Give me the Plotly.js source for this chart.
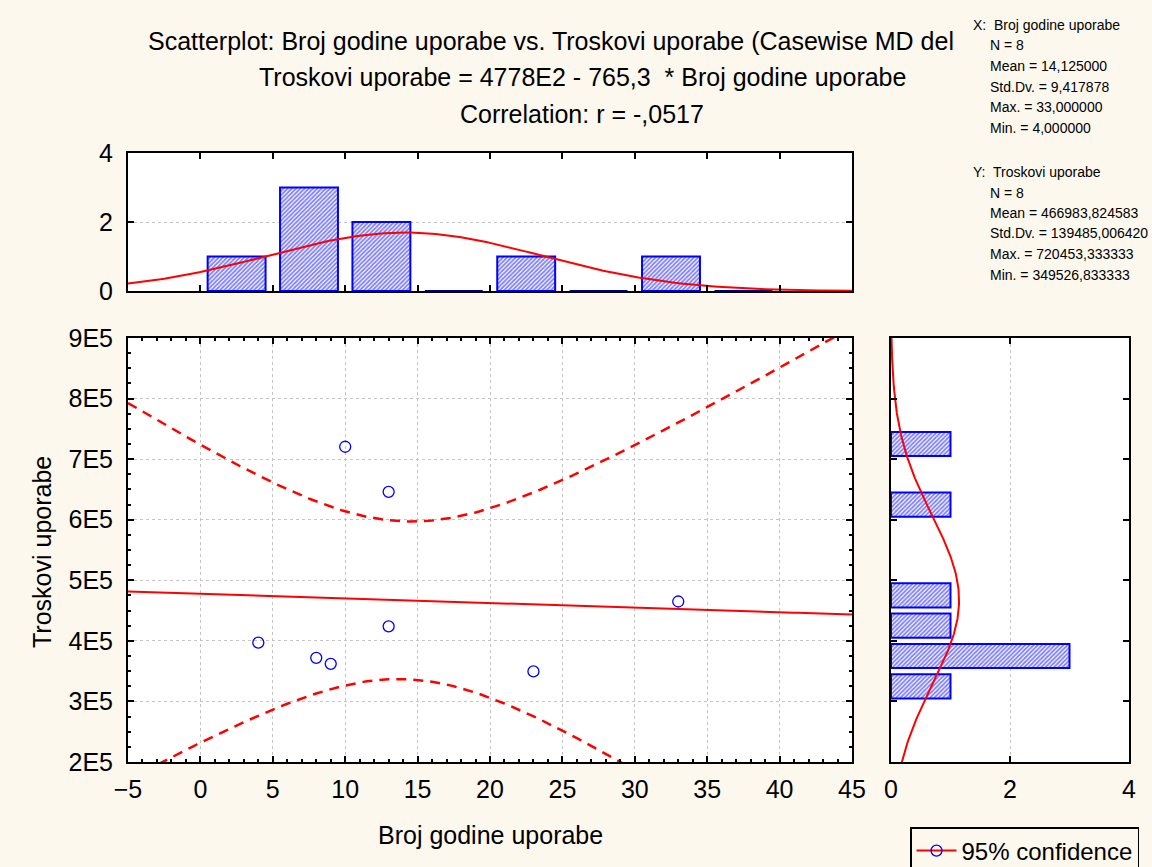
<!DOCTYPE html>
<html>
<head>
<meta charset="utf-8">
<script src="https://cdn.plot.ly/plotly-3.0.1.min.js"></script>
<style>html,body{margin:0;padding:0;background:#fdf8ee;}#chart{width:1152px;height:867px;}</style>
</head>
<body>
<div id="chart"></div>
<script>
// ---- data ----
const xData = [4, 8, 9, 10, 13, 13, 23, 33];            // Broj godine uporabe
const yData = [397000, 372000, 362000, 720453, 646000, 424000, 349527, 465000]; // Troskovi uporabe

// printed statistics
const intercept = 477800;     // 4778E2
const slope = -765.3;
const corrR = -0.0517;
const nObs = 8;
const meanX = 14.125, sdX = 9.417878;
const meanY = 466983.824583, sdY = 139485.00642;
const tCrit = 2.4469;         // t(0.975, df=6)

// histograms
const xBinCenters = [2.5, 7.5, 12.5, 17.5, 22.5, 27.5, 32.5, 37.5];
const xBinCounts  = [1, 3, 2, 0, 1, 0, 1, 0];
const xBinWidth = 5;
const yBinCenters = [325000, 375000, 425000, 475000, 625000, 725000];
const yBinCounts  = [1, 3, 1, 1, 1, 1];
const yBinWidth = 50000;

const yTickVals = [200000, 300000, 400000, 500000, 600000, 700000, 800000, 900000];
const yTickText = ['2E5', '3E5', '4E5', '5E5', '6E5', '7E5', '8E5', '9E5'];

const titleLines = [
  'Scatterplot: Broj godine uporabe vs. Troskovi uporabe (Casewise MD del',
  'Troskovi uporabe = 4778E2 - 765,3  * Broj godine uporabe',
  'Correlation: r = -,0517'
];
const statsX = ['X:  Broj godine uporabe', 'N = 8', 'Mean = 14,125000', 'Std.Dv. = 9,417878', 'Max. = 33,000000', 'Min. = 4,000000'];
const statsY = ['Y:  Troskovi uporabe', 'N = 8', 'Mean = 466983,824583', 'Std.Dv. = 139485,006420', 'Max. = 720453,333333', 'Min. = 349526,833333'];

// ---- derived curves ----
const FONT = 'Liberation Sans, Arial, sans-serif';
const BIG = 25;
const RED = '#ff0000', BLUE = '#0000ff', CREAM = '#fdf8ee';
const W = 1152, H = 867;
const px = v => v / W, py = v => 1 - v / H;

const sxx = (nObs - 1) * sdX * sdX;
const sRes = sdY * Math.sqrt((1 - corrR * corrR) * (nObs - 1) / (nObs - 2));
const gx = [], fitY = [], upY = [], loY = [], normX = [];
for (let x = -5; x <= 45.001; x += 0.25) {
  gx.push(x);
  const yh = intercept + slope * x;
  const hw = tCrit * sRes * Math.sqrt(1 / nObs + (x - meanX) * (x - meanX) / sxx);
  fitY.push(yh); upY.push(yh + hw); loY.push(yh - hw);
  normX.push(nObs * xBinWidth * Math.exp(-0.5 * Math.pow((x - meanX) / sdX, 2)) / (sdX * Math.sqrt(2 * Math.PI)));
}
const gy = [], normY = [];
for (let y = 200000; y <= 900001; y += 2500) {
  gy.push(y);
  normY.push(nObs * yBinWidth * Math.exp(-0.5 * Math.pow((y - meanY) / sdY, 2)) / (sdY * Math.sqrt(2 * Math.PI)));
}

const pattern = {shape: '/', fgcolor: BLUE, bgcolor: 'white', size: 3, solidity: 0.6, fillmode: 'overlay'};

const traces = [];
// top histogram
traces.push({type: 'bar', x: xBinCenters.filter((c, i) => xBinCounts[i] > 0), y: xBinCounts.filter(c => c > 0),
  width: 4, xaxis: 'x2', yaxis: 'y2', marker: {color: 'white', pattern: pattern, line: {color: BLUE, width: 2}},
  showlegend: false, hoverinfo: 'skip'});
// empty bins drawn as thin base lines
xBinCenters.forEach((c, i) => {
  if (xBinCounts[i] === 0) traces.push({type: 'scatter', mode: 'lines', x: [c - 2, c + 2], y: [0, 0], xaxis: 'x2', yaxis: 'y2',
    line: {color: '#000080', width: 2}, showlegend: false, hoverinfo: 'skip'});
});
traces.push({type: 'scatter', mode: 'lines', x: gx, y: normX, xaxis: 'x2', yaxis: 'y2',
  line: {color: RED, width: 2}, showlegend: false, hoverinfo: 'skip'});
// right histogram
traces.push({type: 'bar', orientation: 'h', y: yBinCenters, x: yBinCounts, width: 40000, xaxis: 'x3', yaxis: 'y3',
  marker: {color: 'white', pattern: pattern, line: {color: BLUE, width: 2}}, showlegend: false, hoverinfo: 'skip'});
traces.push({type: 'scatter', mode: 'lines', x: normY, y: gy, xaxis: 'x3', yaxis: 'y3',
  line: {color: RED, width: 2}, showlegend: false, hoverinfo: 'skip'});
// scatter
traces.push({type: 'scatter', mode: 'lines', x: gx, y: upY, line: {color: RED, width: 2.5, dash: '10px,7px'}, showlegend: false});
traces.push({type: 'scatter', mode: 'lines', x: gx, y: loY, line: {color: RED, width: 2.5, dash: '10px,7px'}, showlegend: false});
traces.push({type: 'scatter', mode: 'lines', x: gx, y: fitY, line: {color: RED, width: 2}, showlegend: false});
traces.push({type: 'scatter', mode: 'markers', x: xData, y: yData,
  marker: {symbol: 'circle-open', size: 11, color: BLUE, line: {width: 1.3, color: BLUE}}, showlegend: false});
// legend entry
traces.push({type: 'scatter', mode: 'lines+markers', x: [null], y: [null], name: '95% confidence',
  line: {color: RED, width: 2}, marker: {symbol: 'circle-open', size: 11, color: BLUE, line: {width: 1.3, color: BLUE}}});

const axisCommon = {showline: true, linecolor: 'black', linewidth: 2, mirror: 'allticks', ticks: 'inside',
  ticklen: 6, tickwidth: 2, tickcolor: 'black', zeroline: false, gridcolor: '#c4c4c4', griddash: 'dot', gridwidth: 1,
  tickfont: {family: FONT, size: BIG, color: 'black'}};

const annotations = [];
const tCenters = [41, 77, 114];
titleLines.forEach((t, i) => {
  annotations.push(i === 0
    ? {text: t, x: px(146), y: py(tCenters[i]), xanchor: 'left', yanchor: 'middle', xref: 'paper', yref: 'paper', showarrow: false, font: {family: FONT, size: BIG, color: 'black'}}
    : {text: t, x: px(582), y: py(tCenters[i]), xanchor: 'center', yanchor: 'middle', xref: 'paper', yref: 'paper', showarrow: false, font: {family: FONT, size: BIG, color: 'black'}});
});
function addStats(lines, y0) {
  lines.forEach((t, i) => {
    annotations.push({text: t, x: px(i === 0 ? 971 : 988), y: py(y0 + i * 20.5), xanchor: 'left', yanchor: 'middle',
      xref: 'paper', yref: 'paper', showarrow: false, font: {family: FONT, size: 14, color: 'black'}});
  });
}
addStats(statsX, 25);
addStats(statsY, 172);
annotations.push({text: 'Broj godine uporabe', x: px(490), y: py(835), xanchor: 'center', yanchor: 'middle', xref: 'paper', yref: 'paper',
  showarrow: false, font: {family: FONT, size: BIG, color: 'black'}});
annotations.push({text: 'Troskovi uporabe', x: px(42), y: py(552), xanchor: 'center', yanchor: 'middle', textangle: -90, xref: 'paper', yref: 'paper',
  showarrow: false, font: {family: FONT, size: BIG, color: 'black'}});

const layout = {
  width: W, height: H, paper_bgcolor: CREAM, plot_bgcolor: 'white',
  margin: {l: 0, r: 0, t: 0, b: 0, autoexpand: false}, showlegend: true, bargap: 0,
  font: {family: FONT, color: 'black'},
  xaxis: Object.assign({}, axisCommon, {domain: [px(128), px(852)], range: [-5, 45], tick0: 0, dtick: 5, anchor: 'y', ticklabelstandoff: 4,
    minor: {dtick: 1, ticks: 'inside', ticklen: 3, tickwidth: 2, tickcolor: 'black', showgrid: false}}),
  yaxis: Object.assign({}, axisCommon, {domain: [py(762), py(338)], range: [200000, 900000], tickvals: yTickVals, ticktext: yTickText, anchor: 'x', ticklabelstandoff: 8,
    minor: {dtick: 25000, ticks: 'inside', ticklen: 3, tickwidth: 2, tickcolor: 'black', showgrid: false}}),
  xaxis2: Object.assign({}, axisCommon, {domain: [px(128), px(852)], range: [-5, 45], tick0: 0, dtick: 5, anchor: 'y2', showticklabels: false, showgrid: false}),
  yaxis2: Object.assign({}, axisCommon, {domain: [py(291), py(153)], range: [0, 4], tickvals: [0, 2, 4], anchor: 'x2', ticklabelstandoff: 8}),
  xaxis3: Object.assign({}, axisCommon, {domain: [px(891), px(1129)], range: [0, 4], tickvals: [0, 2, 4], anchor: 'y3', ticklabelstandoff: 4}),
  yaxis3: Object.assign({}, axisCommon, {domain: [py(762), py(338)], range: [200000, 900000], tickvals: yTickVals, anchor: 'x3', showticklabels: false, showgrid: false}),
  legend: {x: px(910), y: py(827), xanchor: 'left', yanchor: 'top', bgcolor: CREAM, bordercolor: 'black', borderwidth: 1.5,
    itemwidth: 40, font: {family: FONT, size: 24, color: 'black'}},
  annotations: annotations
};

Plotly.newPlot('chart', traces, layout, {displayModeBar: false, staticPlot: true});
</script>
</body>
</html>
